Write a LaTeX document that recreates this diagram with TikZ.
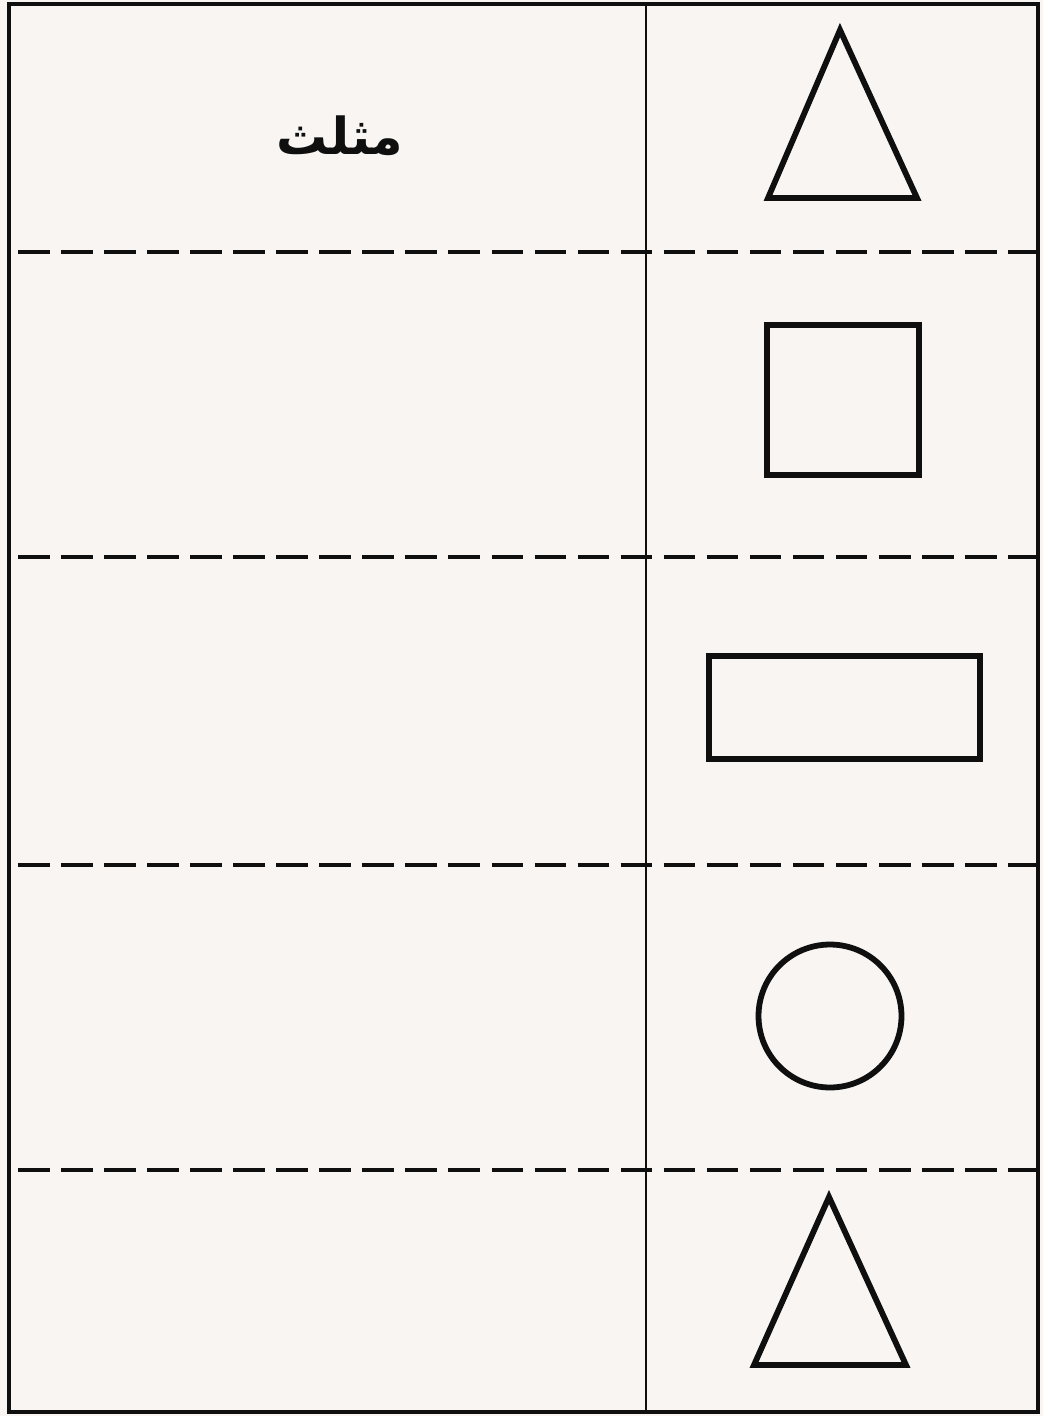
\documentclass[tikz,border=0pt]{standalone}
\usepackage{fontspec}
\usepackage{xcolor}
\newfontfamily\arabicfont[Script=Arabic]{DejaVu Sans}
\TeXXeTstate=1
\definecolor{paper}{RGB}{248,245,243}
\definecolor{ink}{RGB}{15,15,15}

\begin{document}
\begin{tikzpicture}[x=0.02cm, y=-0.02cm,
    figline/.style={draw=ink, line width=3.3pt, line join=miter},
    cutline/.style={draw=ink, line width=2.2pt, dash pattern=on 18pt off 6.5pt},
    frameline/.style={draw=ink, line width=1.8pt},
    word/.style={font=\arabicfont\bfseries\fontsize{29}{34}\selectfont, text=ink}
  ]
    \fill[paper] (0,0) rectangle (1043,1416);
    \useasboundingbox (0,0) rectangle (1043,1416);

    \draw[frameline] (9,4) rectangle (1038,1412);
    \draw[draw=ink, line width=1.5pt] (646,4) -- (646,1412);

    \foreach \y in {252,557,865,1170} {
      \draw[cutline] (18,\y) -- (1038,\y);
    }

    \node[word] (name) at (340,136) {\beginR مثلث\endR};

    \draw[figline] (840,30) -- (917,198) -- (768,198) -- cycle;
    \draw[figline] (767,325) rectangle (919,475);
    \draw[figline] (709,656) rectangle (980,759);
    \draw[figline] (830,1016) circle[radius=1.43cm];
    \draw[figline] (829,1197) -- (906,1365) -- (754,1365) -- cycle;
  \end{tikzpicture}
\end{document}
